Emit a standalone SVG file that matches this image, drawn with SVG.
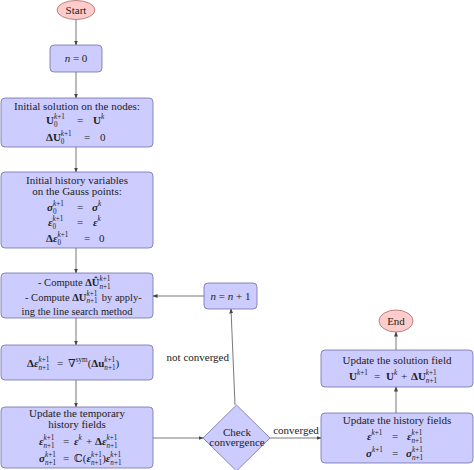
<svg xmlns="http://www.w3.org/2000/svg" width="474" height="470" viewBox="0 0 474 470">
<defs>
<marker id="ah" markerUnits="userSpaceOnUse" markerWidth="5" markerHeight="4" refX="4.5" refY="2" orient="auto">
<path d="M0,0 L5,2 L0,4 z" fill="#444"/>
</marker>
<style>
.box{fill:#ccccff;stroke:#7070a8;stroke-width:0.8}
.term{fill:#ffcccc;stroke:#b06a6a;stroke-width:0.8}
.t{font-family:"Liberation Serif","Times New Roman","DejaVu Serif",serif;font-size:11px;fill:#222}
.sm{font-size:10.5px}
.s{font-size:7.2px}
.b{font-weight:bold}
.bi{font-weight:bold;font-style:italic}
.i{font-style:italic}
.edge{stroke:#555;stroke-width:0.8;fill:none;marker-end:url(#ah)}
</style>
</defs>
<rect width="474" height="470" fill="#fff"/>
<g id="connectors">
<line class="edge" x1="76" y1="19.5" x2="76" y2="45"/>
<line class="edge" x1="76" y1="72" x2="76" y2="98"/>
<line class="edge" x1="76" y1="147" x2="76" y2="172"/>
<line class="edge" x1="76" y1="248" x2="76" y2="273"/>
<line class="edge" x1="76" y1="318" x2="76" y2="345"/>
<line class="edge" x1="76" y1="380" x2="76" y2="407"/>
<line class="edge" x1="153" y1="438" x2="203" y2="438"/>
<line class="edge" x1="235" y1="405" x2="231" y2="309"/>
<line class="edge" x1="204" y1="296" x2="153" y2="296"/>
<line class="edge" x1="270" y1="438" x2="321" y2="438"/>
<line class="edge" x1="396" y1="413" x2="396" y2="387"/>
<line class="edge" x1="396" y1="350" x2="396" y2="332"/>
<text class="t" x="229" y="361" text-anchor="end">not converged</text>
<text class="t" x="296" y="434" text-anchor="middle">converged</text>
</g>
<g id="start">
<ellipse class="term" cx="76" cy="10" rx="19" ry="9.5"/>
<text class="t" x="76" y="14" text-anchor="middle">Start</text>
</g>
<g id="n0">
<rect class="box" x="50" y="45" width="52" height="27" rx="4"/>
<text class="t" x="76" y="62" text-anchor="middle"><tspan class="i">n</tspan> = 0</text>
</g>
<g id="init-solution">
<rect class="box" x="1" y="98" width="152" height="49" rx="4"/>
<text class="t" x="77" y="110" text-anchor="middle">Initial solution on the nodes:</text>
<text class="t" y="123.5"><tspan x="46" class="b">U</tspan><tspan class="s" dy="-5"><tspan class="i">k</tspan>+1</tspan><tspan class="s" dx="-10.9" dy="8">0</tspan><tspan x="77" dy="-3">=</tspan><tspan x="93" class="b">U</tspan><tspan class="s i" dy="-5">k</tspan></text>
<text class="t" y="141"><tspan x="46" class="b">ΔU</tspan><tspan class="s" dy="-5"><tspan class="i">k</tspan>+1</tspan><tspan class="s" dx="-10.9" dy="8">0</tspan><tspan x="84" dy="-3">=</tspan><tspan x="100">0</tspan></text>
</g>
<g id="init-history">
<rect class="box" x="1" y="172" width="152" height="76" rx="4"/>
<text class="t" x="77" y="183.5" text-anchor="middle">Initial history variables</text>
<text class="t" x="77" y="195" text-anchor="middle">on the Gauss points:</text>
<text class="t" y="211"><tspan x="47" class="bi">σ</tspan><tspan class="s" dy="-5"><tspan class="i">k</tspan>+1</tspan><tspan class="s" dx="-10.9" dy="8">0</tspan><tspan x="77" dy="-3">=</tspan><tspan x="92" class="bi">σ</tspan><tspan class="s i" dy="-5">k</tspan></text>
<text class="t" y="226"><tspan x="48" class="bi">ε</tspan><tspan class="s" dy="-5"><tspan class="i">k</tspan>+1</tspan><tspan class="s" dx="-10.9" dy="8">0</tspan><tspan x="77" dy="-3">=</tspan><tspan x="93" class="bi">ε</tspan><tspan class="s i" dy="-5">k</tspan></text>
<text class="t" y="241.5"><tspan x="46" class="b">Δ</tspan><tspan class="bi">ε</tspan><tspan class="s" dy="-5"><tspan class="i">k</tspan>+1</tspan><tspan class="s" dx="-10.9" dy="8">0</tspan><tspan x="84" dy="-3">=</tspan><tspan x="99">0</tspan></text>
</g>
<g id="compute">
<rect class="box" x="1" y="273" width="152" height="45" rx="4"/>
<text class="t sm" y="285.5"><tspan x="38">- Compute </tspan><tspan class="b">ΔÛ</tspan><tspan class="s" dy="-5"><tspan class="i">k</tspan>+1</tspan><tspan class="s" dx="-10.9" dy="8"><tspan class="i">n</tspan>+1</tspan></text>
<text class="t sm" y="301"><tspan x="25">- Compute </tspan><tspan class="b">ΔU</tspan><tspan class="s" dy="-5"><tspan class="i">k</tspan>+1</tspan><tspan class="s" dx="-10.9" dy="7.4"><tspan class="i">n</tspan>+1</tspan><tspan dy="-2.4" dx="1.5"> by apply-</tspan></text>
<text class="t sm" x="77" y="314.5" text-anchor="middle">ing the line search method</text>
</g>
<g id="delta-eps">
<rect class="box" x="1" y="345" width="152" height="35" rx="4"/>
<text class="t" y="367"><tspan x="27" class="b">Δ</tspan><tspan class="bi">ε</tspan><tspan class="s" dy="-5"><tspan class="i">k</tspan>+1</tspan><tspan class="s" dx="-10.9" dy="8"><tspan class="i">n</tspan>+1</tspan><tspan x="57" dy="-3">=</tspan><tspan x="68">∇</tspan><tspan class="s" dy="-5">sym</tspan><tspan dy="5">(</tspan><tspan class="b">Δu</tspan><tspan class="s" dy="-5"><tspan class="i">k</tspan>+1</tspan><tspan class="s" dx="-10.9" dy="8"><tspan class="i">n</tspan>+1</tspan><tspan dy="-3">)</tspan></text>
</g>
<g id="update-temp">
<rect class="box" x="1" y="407" width="152" height="61" rx="4"/>
<text class="t" x="77" y="417" text-anchor="middle">Update the temporary</text>
<text class="t" x="77" y="427.5" text-anchor="middle">history fields</text>
<text class="t" y="445"><tspan x="39" class="bi">ε</tspan><tspan class="s" dy="-5"><tspan class="i">k</tspan>+1</tspan><tspan class="s" dx="-10.9" dy="8"><tspan class="i">n</tspan>+1</tspan><tspan x="63" dy="-3">=</tspan><tspan x="74" class="bi">ε</tspan><tspan class="s i" dy="-5">k</tspan><tspan x="86" dy="5">+</tspan><tspan x="95" class="b">Δ</tspan><tspan class="bi">ε</tspan><tspan class="s" dy="-5"><tspan class="i">k</tspan>+1</tspan><tspan class="s" dx="-10.9" dy="8"><tspan class="i">n</tspan>+1</tspan></text>
<text class="t" y="461.5"><tspan x="39" class="bi">σ</tspan><tspan class="s" dy="-5"><tspan class="i">k</tspan>+1</tspan><tspan class="s" dx="-10.9" dy="8"><tspan class="i">n</tspan>+1</tspan><tspan x="63" dy="-3">=</tspan><tspan x="74">ℂ(</tspan><tspan class="bi">ε</tspan><tspan class="s" dy="-5"><tspan class="i">k</tspan>+1</tspan><tspan class="s" dx="-10.9" dy="8"><tspan class="i">n</tspan>+1</tspan><tspan dy="-3">)</tspan><tspan class="bi">ε</tspan><tspan class="s" dy="-5"><tspan class="i">k</tspan>+1</tspan><tspan class="s" dx="-10.9" dy="8"><tspan class="i">n</tspan>+1</tspan></text>
</g>
<g id="check">
<polygon class="box" points="236.5,405 270,438 236.5,471 203,438"/>
<text class="t" x="237" y="435.5" text-anchor="middle">Check</text>
<text class="t" x="237" y="446" text-anchor="middle">convergence</text>
</g>
<g id="n-inc">
<rect class="box" x="204" y="283" width="53" height="26" rx="4"/>
<text class="t" x="230.5" y="300" text-anchor="middle"><tspan class="i">n</tspan> = <tspan class="i">n</tspan> + 1</text>
</g>
<g id="update-history">
<rect class="box" x="321" y="413" width="152" height="50" rx="4"/>
<text class="t" x="397" y="424" text-anchor="middle">Update the history fields</text>
<text class="t" y="440"><tspan x="367" class="bi">ε</tspan><tspan class="s" dy="-5"><tspan class="i">k</tspan>+1</tspan><tspan x="392" dy="5">=</tspan><tspan x="407" class="bi">ε</tspan><tspan class="s" dy="-5"><tspan class="i">k</tspan>+1</tspan><tspan class="s" dx="-10.9" dy="8"><tspan class="i">n</tspan>+1</tspan></text>
<text class="t" y="456.5"><tspan x="366" class="bi">σ</tspan><tspan class="s" dy="-5"><tspan class="i">k</tspan>+1</tspan><tspan x="392" dy="5">=</tspan><tspan x="406" class="bi">σ</tspan><tspan class="s" dy="-5"><tspan class="i">k</tspan>+1</tspan><tspan class="s" dx="-10.9" dy="8"><tspan class="i">n</tspan>+1</tspan></text>
</g>
<g id="update-solution">
<rect class="box" x="321" y="350" width="152" height="37" rx="4"/>
<text class="t" x="397" y="364" text-anchor="middle">Update the solution field</text>
<text class="t" y="380"><tspan x="349" class="b">U</tspan><tspan class="s" dy="-5"><tspan class="i">k</tspan>+1</tspan><tspan x="374" dy="5">=</tspan><tspan x="386" class="b">U</tspan><tspan class="s i" dy="-5">k</tspan><tspan x="401" dy="5">+</tspan><tspan x="411" class="b">ΔU</tspan><tspan class="s" dy="-5"><tspan class="i">k</tspan>+1</tspan><tspan class="s" dx="-10.9" dy="8"><tspan class="i">n</tspan>+1</tspan></text>
</g>
<g id="end">
<ellipse class="term" cx="396" cy="321" rx="17" ry="11"/>
<text class="t" x="396" y="325" text-anchor="middle">End</text>
</g>
</svg>
